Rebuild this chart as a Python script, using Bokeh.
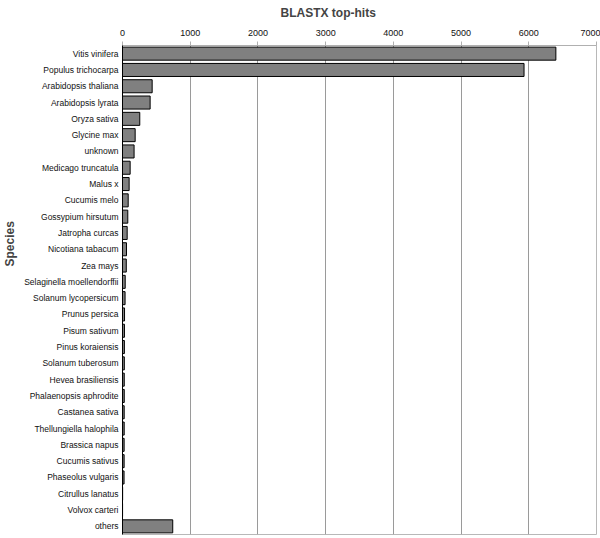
from bokeh.plotting import figure
from bokeh.models import Range1d, FactorRange, Title, FixedTicker
from bokeh.embed import file_html
from bokeh.resources import INLINE

species = ["Vitis vinifera", "Populus trichocarpa", "Arabidopsis thaliana", "Arabidopsis lyrata",
           "Oryza sativa", "Glycine max", "unknown", "Medicago truncatula", "Malus x",
           "Cucumis melo", "Gossypium hirsutum", "Jatropha curcas", "Nicotiana tabacum",
           "Zea mays", "Selaginella moellendorffii", "Solanum lycopersicum", "Prunus persica",
           "Pisum sativum", "Pinus koraiensis", "Solanum tuberosum", "Hevea brasiliensis",
           "Phalaenopsis aphrodite", "Castanea sativa", "Thellungiella halophila",
           "Brassica napus", "Cucumis sativus", "Phaseolus vulgaris", "Citrullus lanatus",
           "Volvox carteri", "others"]
hits = [6400, 5930, 438, 408, 255, 187, 171, 113, 98, 84, 78, 69, 59, 56, 40, 38, 30, 29,
        28, 27, 26, 26, 25, 25, 24, 24, 23, 2, 1, 742]
x_ticks = [0, 1000, 2000, 3000, 4000, 5000, 6000, 7000]

FONT = "Liberation Sans"

p = figure(width=600, height=538, output_backend="svg", toolbar_location=None,
           y_range=FactorRange(factors=list(reversed(species))),
           x_range=Range1d(0, 7000), x_axis_location="above",
           min_border_left=121, min_border_top=44, min_border_right=4, min_border_bottom=4)

p.title.text = "BLASTX top-hits"
p.title.text_font = FONT
p.title.text_font_size = "12px"
p.title.text_font_style = "bold"
p.title.align = "left"
p.title.offset = 158
p.title.standoff = 10
p.title.vertical_align = "top"

p.hbar(y=species, right=hits, left=0, height=0.8, fill_color="#808080",
       line_color="#000000", line_width=1)

xa = p.xaxis[0]
xa.ticker = FixedTicker(ticks=x_ticks)
xa.major_label_text_font = FONT
xa.major_label_text_font_size = "9px"
xa.major_label_text_color = "#111111"
xa.major_tick_out = 4
xa.major_tick_in = 0
xa.minor_tick_out = 0
xa.minor_tick_in = 0
xa.axis_line_color = "#b0b0b0"
xa.major_tick_line_color = "#b0b0b0"
xa.major_label_standoff = 6

ya = p.yaxis[0]
ya.major_label_text_font = FONT
ya.major_label_text_font_size = "8.5px"
ya.major_label_text_color = "#111111"
ya.major_tick_out = 0
ya.major_tick_in = 0
ya.major_label_standoff = 4
ya.axis_line_color = "#000000"
ya.axis_label = None

p.add_layout(Title(text="Species", text_font=FONT, text_font_size="12px",
                   text_font_style="bold", align="left", offset=268, standoff=5,
                   vertical_align="top"), "left")

p.xgrid.grid_line_color = "#9a9a9a"
p.xgrid.ticker = FixedTicker(ticks=x_ticks)
p.ygrid.grid_line_color = None
p.outline_line_color = "#b8b8b8"
p.outline_line_width = 1
p.background_fill_color = "white"
p.border_fill_color = "white"

open("out.html", "w").write(file_html(p, INLINE))
